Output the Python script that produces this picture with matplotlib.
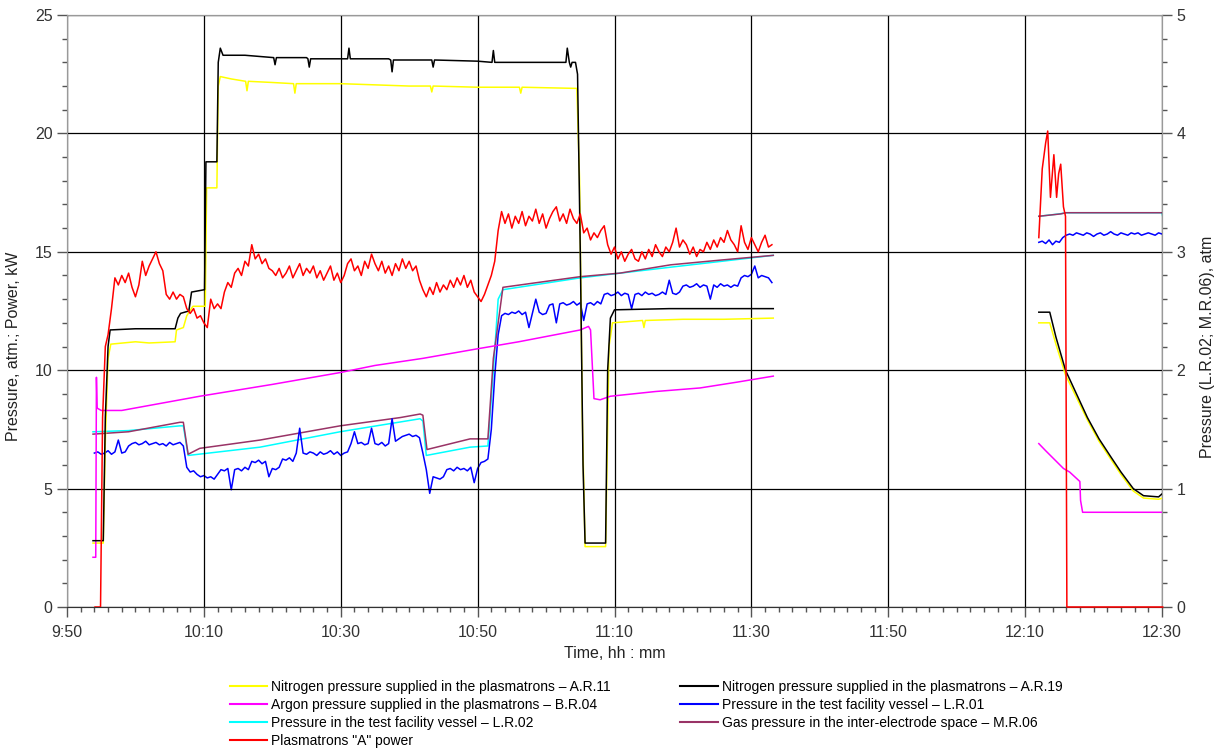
import numpy as np
import matplotlib
matplotlib.use("Agg")
import matplotlib.pyplot as plt
from matplotlib.lines import Line2D
from matplotlib.ticker import MultipleLocator, FixedLocator, FuncFormatter

plt.rcParams["font.family"] = ["Liberation Sans", "DejaVu Sans"]

nan = float("nan")
START = 9 * 60 + 50  # 9:50, time values below are minutes after this

# Nitrogen pressure A.R.11 (atm, left axis)
n2_11_t = [3.8, 5.3, 5.6, 6.0, 6.4, 10.0, 12.0, 15.8, 16.0, 17.0, 17.5, 18.4, 20.2, 20.4, 21.9, 22.1,
           22.4, 24.0, 26.1, 26.3, 26.5, 30.0, 33.1, 33.3, 33.5, 40.0, 50.0, 53.1, 53.3, 53.5, 60.0,
           66.1, 66.3, 66.5, 74.5, 74.9, 75.3, 75.7, 78.7, 79.2, 79.7, 84.1, 84.3, 84.5, 90.0, 96.0,
           103.2,
           nan,
           142.0, 143.6, 144.5, 145.9, 147.5, 149.1, 150.8, 152.5, 154.0, 155.8, 157.3, 159.5, 160.1]
n2_11_v = [2.7, 2.7, 7.0, 10.5, 11.1, 11.2, 11.15, 11.2, 11.7, 11.8, 12.3, 12.7, 12.7, 17.7, 17.7, 22.0,
           22.4, 22.3, 22.2, 21.8, 22.2, 22.15, 22.1, 21.7, 22.1, 22.1, 22.0, 22.0, 21.75, 22.0, 21.95,
           21.95, 21.7, 21.95, 21.9, 18.0, 8.0, 2.55, 2.55, 11.0, 12.0, 12.1, 11.8, 12.1, 12.15, 12.15,
           12.2,
           nan,
           12.0, 12.0, 11.1, 9.8, 8.85, 7.9, 7.0, 6.25, 5.6, 4.9, 4.6, 4.55, 4.6]

# Nitrogen pressure A.R.19 (atm, left axis)
n2_19_t = [3.8, 5.3, 5.6, 6.0, 6.3, 10.0, 15.8, 16.2, 16.6, 17.8, 18.2, 20.1, 20.3, 21.9, 22.1, 22.4,
           22.8, 26.0, 30.2, 30.4, 30.6, 35.0, 35.2, 35.4, 35.6, 41.0, 41.2, 41.4, 47.0, 47.3, 47.5,
           47.7, 53.3, 53.5, 53.7, 60.0, 62.1, 62.3, 62.5, 72.9, 73.1, 73.4, 73.6, 73.8, 74.3, 74.6,
           75.0, 75.4, 75.7, 78.7, 79.0, 79.4, 80.0, 88.0, 103.2,
           nan,
           142.0, 143.6, 144.5, 145.9, 147.5, 149.1, 150.8, 152.5, 154.0, 155.8, 157.3, 159.5, 160.1]
n2_19_v = [2.8, 2.8, 8.0, 11.0, 11.7, 11.75, 11.75, 12.2, 12.4, 12.5, 13.3, 13.4, 18.8, 18.8, 23.0, 23.6,
           23.3, 23.3, 23.2, 22.9, 23.2, 23.2, 23.15, 22.8, 23.15, 23.15, 23.6, 23.15, 23.15, 23.1, 22.6,
           23.1, 23.1, 22.8, 23.1, 23.05, 23.0, 23.5, 23.0, 23.0, 23.6, 23.0, 22.8, 23.0, 23.0, 22.5,
           15.0, 6.0, 2.7, 2.7, 10.0, 12.2, 12.55, 12.6, 12.6,
           nan,
           12.45, 12.45, 11.4, 10.0, 9.0, 8.0, 7.1, 6.35, 5.7, 5.0, 4.7, 4.65, 4.8]

# Argon pressure B.R.04 (atm, left axis)
ar_t = [3.8, 4.2, 4.3, 4.4, 5.0, 8.0, 19.4, 30.0, 39.9, 45.0, 52.0, 59.9, 66.0, 75.0, 76.2,
        76.5, 77.0, 77.9, 79.4, 86.0, 92.5, 98.0, 103.2,
        nan,
        142.0, 143.0, 145.6, 146.5, 148.0, 148.1, 148.4, 160.1]
ar_v = [2.1, 2.1, 9.7, 8.4, 8.3, 8.3, 8.9, 9.4, 9.9, 10.2, 10.5, 10.9, 11.2, 11.7, 11.85,
        11.7, 8.8, 8.75, 8.9, 9.1, 9.25, 9.5, 9.75,
        nan,
        6.9, 6.6, 5.85, 5.7, 5.3, 4.5, 4.0, 4.0]

# Vessel pressure L.R.02 (atm, right axis)
lr02_t = [3.8, 9.0, 16.5, 17.0, 17.7, 28.2, 39.9, 51.6, 52.0, 52.5, 58.9, 61.5, 62.3, 63.0, 63.7, 75.0,
          88.2, 103.2,
          nan,
          142.0, 145.0, 146.0, 160.0, 160.1]
lr02_v = [1.48, 1.49, 1.53, 1.53, 1.28, 1.35, 1.48, 1.59, 1.57, 1.28, 1.35, 1.36, 2.0, 2.60, 2.68, 2.78,
          2.87, 2.97,
          nan,
          3.30, 3.32, 3.33, 3.33, 3.30]

# Inter-electrode gas pressure M.R.06 (atm, right axis)
mr06_t = [3.8, 9.0, 16.5, 17.0, 17.7, 19.4, 28.2, 39.9, 48.7, 51.6, 52.0, 52.6, 58.9, 61.5, 62.3, 63.7,
          68.7, 75.0, 80.8, 88.2, 95.5, 103.2,
          nan,
          142.0, 145.2, 146.0, 160.0]
mr06_v = [1.46, 1.48, 1.56, 1.56, 1.29, 1.34, 1.41, 1.53, 1.60, 1.63, 1.62, 1.33, 1.42, 1.42, 2.1, 2.70,
          2.74, 2.79, 2.82, 2.89, 2.93, 2.97,
          nan,
          3.30, 3.32, 3.33, 3.33]

# Vessel pressure L.R.01 (atm, right axis), logged every 0.5 min
lr01_start1 = 4.0
lr01_v1 = [1.30, 1.31, 1.29, 1.30, 1.32, 1.29, 1.31, 1.41, 1.30, 1.31, 1.36, 1.38, 1.39, 1.37, 1.38, 1.40,
           1.37, 1.38, 1.39, 1.37, 1.38, 1.36, 1.39, 1.37, 1.38, 1.39, 1.36, 1.18, 1.14, 1.15, 1.12, 1.10,
           1.11, 1.09, 1.10, 1.08, 1.12, 1.16, 1.15, 1.17, 0.99, 1.16, 1.17, 1.15, 1.18, 1.16, 1.23, 1.22,
           1.24, 1.21, 1.23, 1.10, 1.17, 1.16, 1.18, 1.25, 1.24, 1.26, 1.23, 1.30, 1.51, 1.30, 1.29, 1.31,
           1.30, 1.28, 1.31, 1.29, 1.30, 1.32, 1.29, 1.31, 1.28, 1.30, 1.31, 1.38, 1.48, 1.38, 1.39, 1.37,
           1.38, 1.51, 1.38, 1.37, 1.39, 1.36, 1.38, 1.59, 1.40, 1.42, 1.44, 1.45, 1.46, 1.44, 1.45, 1.43,
           1.30, 1.16, 0.96, 1.10, 1.09, 1.08, 1.10, 1.16, 1.17, 1.15, 1.18, 1.16, 1.17, 1.15, 1.18, 1.05,
           1.17, 1.22, 1.23, 1.25, 1.50, 1.95, 2.30, 2.46, 2.48, 2.47, 2.49, 2.48, 2.50, 2.47, 2.49, 2.36,
           2.48, 2.60, 2.49, 2.47, 2.48, 2.55, 2.56, 2.40, 2.56, 2.57, 2.55, 2.56, 2.58, 2.55, 2.57, 2.42,
           2.56, 2.57, 2.55, 2.58, 2.56, 2.64, 2.65, 2.63, 2.64, 2.66, 2.63, 2.65, 2.64, 2.52, 2.64, 2.65,
           2.63, 2.66, 2.64, 2.65, 2.63, 2.64, 2.66, 2.64, 2.76, 2.65, 2.64, 2.66, 2.71, 2.72, 2.70, 2.71,
           2.73, 2.70, 2.72, 2.71, 2.60, 2.72, 2.70, 2.73, 2.71, 2.72, 2.70, 2.72, 2.71, 2.78, 2.80, 2.79,
           2.81, 2.88, 2.78, 2.80, 2.79, 2.78, 2.74]
lr01_start2 = 142.0
lr01_v2 = [3.08, 3.09, 3.07, 3.10, 3.06, 3.09, 3.08, 3.12, 3.14, 3.15, 3.14, 3.16, 3.15, 3.14, 3.16, 3.15,
           3.13, 3.15, 3.16, 3.14, 3.15, 3.17, 3.15, 3.14, 3.16, 3.15, 3.14, 3.16, 3.15, 3.16, 3.14, 3.15,
           3.16, 3.15, 3.14, 3.16, 3.15]

# Plasmatrons "A" power (kW, left axis)
pw_ramp_t = [4.1, 4.9, 5.2, 5.6, 6.0]
pw_ramp_v = [0.0, 0.0, 8.0, 11.0, 11.5]
pw_start1 = 6.5  # then every 0.5 min
pw_v1 = [12.6, 13.9, 13.6, 14.0, 13.7, 14.1, 13.5, 13.1, 13.6, 14.6, 14.0, 14.4, 14.7, 15.0, 14.5, 14.2,
         13.2, 13.0, 13.3, 13.0, 13.2, 13.1, 12.6, 12.4, 12.6, 12.2, 12.3, 12.0, 11.8, 13.0, 12.6, 12.8,
         12.6, 13.3, 13.7, 13.5, 14.1, 14.3, 14.0, 14.6, 14.4, 15.3, 14.7, 14.9, 14.5, 14.7, 14.3, 14.2,
         14.0, 14.3, 13.9, 14.1, 14.4, 13.9, 14.2, 14.5, 14.0, 14.3, 14.1, 14.4, 13.9, 14.2, 13.8, 14.1,
         14.4, 13.8, 14.1, 13.7, 14.0, 14.5, 14.7, 14.2, 14.4, 14.0, 14.6, 14.3, 14.9, 14.5, 14.2, 14.6,
         14.1, 14.4, 14.0, 14.5, 14.2, 14.7, 14.3, 14.6, 14.2, 14.4, 13.8, 13.4, 13.1, 13.5, 13.2, 13.7,
         13.3, 13.6, 13.4, 13.8, 13.5, 13.9, 13.6, 14.0, 13.5, 13.8, 13.3, 13.1, 12.9, 13.2, 13.6, 14.0,
         14.6, 15.9, 16.7, 16.2, 16.6, 16.0, 16.5, 16.2, 16.7, 16.1, 16.5, 16.3, 16.8, 16.2, 16.6, 16.0,
         16.4, 16.7, 16.9, 16.3, 16.6, 16.2, 16.8, 16.4, 16.2, 16.6, 15.8, 16.0, 15.5, 15.8, 15.6, 15.9,
         16.1, 15.3, 14.9, 15.2, 14.7, 15.0, 14.6, 14.9, 15.1, 14.7, 14.6, 15.0, 14.7, 15.1, 14.8, 15.3,
         15.0, 14.8, 15.2, 15.0, 15.4, 16.0, 15.2, 15.5, 15.3, 14.9, 15.2, 14.8, 15.1, 15.0, 15.4, 15.1,
         15.5, 15.2, 15.6, 15.4, 15.9, 15.5, 15.3, 15.0, 16.1, 15.4, 15.1, 15.6, 15.3, 15.0, 15.4, 15.7,
         15.2, 15.3]
pw_t2 = [142.0, 142.5, 143.0, 143.3, 143.7, 144.2, 144.6, 144.9, 145.2, 145.6, 145.9, 146.1, 160.1]
pw_v2 = [15.6, 18.5, 19.6, 20.1, 17.3, 19.1, 17.3, 18.3, 18.7, 16.9, 16.5, 0.0, 0.0]

labels = [
    "Nitrogen pressure supplied in the plasmatrons \u2013 A.R.11",
    "Argon pressure supplied in the plasmatrons \u2013 B.R.04",
    "Pressure in the test facility vessel \u2013 L.R.02",
    'Plasmatrons "A" power',
    "Nitrogen pressure supplied in the plasmatrons \u2013 A.R.19",
    "Pressure in the test facility vessel \u2013 L.R.01",
    "Gas pressure in the inter-electrode space \u2013 M.R.06",
]
colors = ["#ffff00", "#ff00ff", "#00ffff", "#ff0000", "#000000", "#0000ff", "#993366"]
time_ticks = [590, 610, 630, 650, 670, 690, 710, 730, 750]


def clock(t):
    return np.asarray(t, dtype=float) + START


fig = plt.figure(figsize=(12.15, 7.55), dpi=100)
ax = fig.add_axes([67 / 1215, 1 - 607 / 755, 1095 / 1215, 592 / 755])
ax2 = ax.twinx()

lw = 1.1
# right-axis pressures
ax2.plot(clock(lr02_t), lr02_v, color=colors[2], lw=lw)
ax2.plot(clock(mr06_t), mr06_v, color=colors[6], lw=lw)
lr01_t1 = lr01_start1 + 0.5 * np.arange(len(lr01_v1))
lr01_t2 = lr01_start2 + 0.5 * np.arange(len(lr01_v2))
ax2.plot(clock(lr01_t1), lr01_v1, color=colors[5], lw=lw)
ax2.plot(clock(lr01_t2), lr01_v2, color=colors[5], lw=lw)

# left-axis pressures and power
ax.plot(clock(n2_11_t), n2_11_v, color=colors[0], lw=lw, zorder=3)
ax.plot(clock(n2_19_t), n2_19_v, color=colors[4], lw=lw, zorder=4)
ax.plot(clock(ar_t), ar_v, color=colors[1], lw=lw, zorder=3)
pw_t1 = pw_start1 + 0.5 * np.arange(len(pw_v1))
ax.plot(clock(pw_ramp_t + list(pw_t1)), pw_ramp_v + pw_v1, color=colors[3], lw=lw, zorder=5)
ax.plot(clock(pw_t2), pw_v2, color=colors[3], lw=lw, zorder=5, clip_on=False)

ax.set_zorder(ax2.get_zorder() + 1)
ax.patch.set_visible(False)

ax.set_xlim(590, 750)
ax.set_ylim(0, 25)
ax2.set_ylim(0, 5)
ax.xaxis.set_major_locator(FixedLocator(time_ticks))
ax.xaxis.set_minor_locator(MultipleLocator(2))
ax.xaxis.set_major_formatter(FuncFormatter(lambda v, p: f"{int(v // 60)}:{int(round(v % 60)):02d}"))
ax.yaxis.set_major_locator(MultipleLocator(5))
ax.yaxis.set_minor_locator(MultipleLocator(1))
ax2.yaxis.set_major_locator(MultipleLocator(1))
ax2.yaxis.set_minor_locator(MultipleLocator(0.2))

ax.grid(which="major", color="black", lw=0.9)
ax.set_axisbelow(True)

for a in (ax, ax2):
    a.tick_params(which="major", direction="out", length=7, width=1, color="#555555",
                  labelsize=11.5, labelcolor="#333333")
    a.tick_params(which="minor", direction="out", length=3.5, width=1, color="#555555")
    for s in a.spines.values():
        s.set_color("#999999")
ax.tick_params(axis="x", which="major", pad=6)
ax.spines["bottom"].set_color("#333333")

ax.set_xlabel("Time, hh : mm", fontsize=11.5, color="#222222", labelpad=4)
ax.set_ylabel("Pressure, atm.; Power, kW", fontsize=11.5, color="#222222", labelpad=10)
ax2.set_ylabel("Pressure (L.R.02; M.R.06), atm", fontsize=11.5, color="#222222", labelpad=10)
ax.yaxis.set_label_coords(-0.042, 0.44)
ax2.yaxis.set_label_coords(1.035, 0.44)

handles = [Line2D([], [], color=c, lw=1.5) for c in colors]
fig.legend(handles, labels, ncol=2, loc="upper left", bbox_to_anchor=(0.189, 0.099),
           frameon=False, fontsize=10, handlelength=2.7, handletextpad=0.3,
           labelspacing=0.28, columnspacing=5.0, borderaxespad=0, borderpad=0)

fig.savefig("out.png", dpi=100)
